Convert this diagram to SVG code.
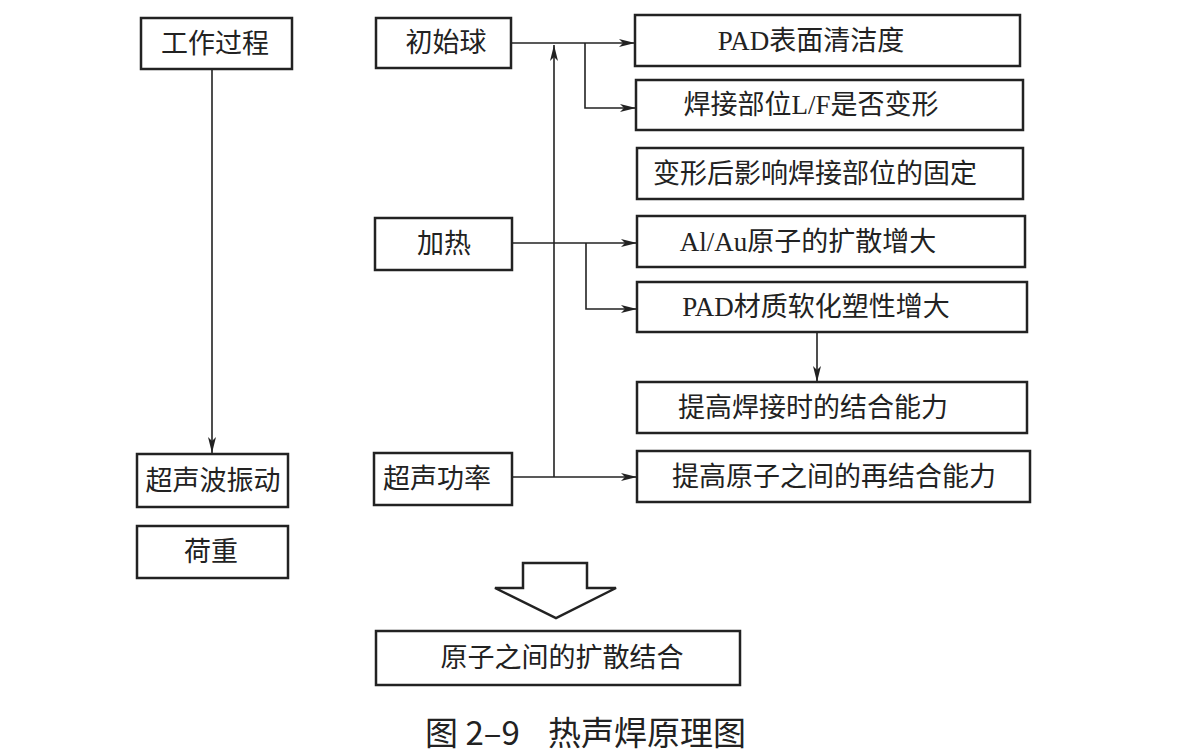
<svg xmlns="http://www.w3.org/2000/svg" width="1201" height="754" viewBox="0 0 1201 754">
<style>
.box{fill:#fff;stroke:#222;stroke-width:2.5}
.t{font-family:"Liberation Serif","Noto Sans CJK SC",serif;font-size:27px;fill:#222;text-anchor:middle;dominant-baseline:central}
.ln{fill:none;stroke:#222;stroke-width:1.6}
.cap{font-family:"Noto Sans CJK SC",sans-serif;font-size:33px;fill:#222;font-weight:400}
</style>
<defs>
<marker id="ah" viewBox="0 0 16 8" refX="16" refY="4" markerWidth="16" markerHeight="8" markerUnits="userSpaceOnUse" orient="auto">
<path d="M0,0 L16,4 L0,8 L4,4 Z" fill="#222"/>
</marker>
</defs>
<rect width="1201" height="754" fill="#fff"/>
<g id="connectors">
<path class="ln" d="M212,69 V453" marker-end="url(#ah)"/>
<path class="ln" d="M511,43 H635" marker-end="url(#ah)"/>
<path class="ln" d="M585,43 V108 H636" marker-end="url(#ah)"/>
<path class="ln" d="M512,243 H637" marker-end="url(#ah)"/>
<path class="ln" d="M586,243 V309 H637" marker-end="url(#ah)"/>
<path class="ln" d="M512,477 H637" marker-end="url(#ah)"/>
<path class="ln" d="M554,477 V45" marker-end="url(#ah)"/>
<path class="ln" d="M817,332 V382" marker-end="url(#ah)"/>
<polygon points="523,563 587,563 587,588 616,588 556,618 495,588 523,588" fill="#fff" stroke="#222" stroke-width="2.5" stroke-linejoin="miter"/>
</g>
<g id="n-gongzuo"><rect class="box" x="141" y="18" width="151" height="51"/><text class="t" x="215" y="44">工作过程</text></g>
<g id="n-chushiqiu"><rect class="box" x="376" y="18" width="135" height="50"/><text class="t" x="446" y="43">初始球</text></g>
<g id="n-jiare"><rect class="box" x="375" y="218" width="137" height="52"/><text class="t" x="444" y="244">加热</text></g>
<g id="n-chaoshenggonglv"><rect class="box" x="374" y="453" width="138" height="52"/><text class="t" x="437" y="479">超声功率</text></g>
<g id="n-chaoshengbo"><rect class="box" x="137" y="454" width="151" height="53"/><text class="t" x="213" y="481">超声波振动</text></g>
<g id="n-hezhong"><rect class="box" x="137" y="526" width="151" height="52"/><text class="t" x="211" y="552">荷重</text></g>
<g id="n-pad1"><rect class="box" x="635" y="15" width="385" height="51"/><text class="t" x="811" y="41">PAD表面清洁度</text></g>
<g id="n-hanjie"><rect class="box" x="636" y="80" width="387" height="50"/><text class="t" x="811" y="105">焊接部位L/F是否变形</text></g>
<g id="n-bianxing"><rect class="box" x="637" y="148" width="386" height="51"/><text class="t" x="815" y="174">变形后影响焊接部位的固定</text></g>
<g id="n-alau"><rect class="box" x="637" y="216" width="388" height="51"/><text class="t" x="808" y="242">Al/Au原子的扩散增大</text></g>
<g id="n-pad2"><rect class="box" x="637" y="282" width="390" height="50"/><text class="t" x="816" y="307">PAD材质软化塑性增大</text></g>
<g id="n-tigao1"><rect class="box" x="637" y="382" width="390" height="51"/><text class="t" x="813" y="408">提高焊接时的结合能力</text></g>
<g id="n-tigao2"><rect class="box" x="637" y="451" width="393" height="51"/><text class="t" x="834" y="477">提高原子之间的再结合能力</text></g>
<g id="n-final"><rect class="box" x="376" y="631" width="364" height="54"/><text class="t" x="562" y="658">原子之间的扩散结合</text></g>
<g id="caption"><text class="cap" y="745"><tspan x="425">图 2–9</tspan><tspan x="548">热声焊原理图</tspan></text></g>
</svg>
